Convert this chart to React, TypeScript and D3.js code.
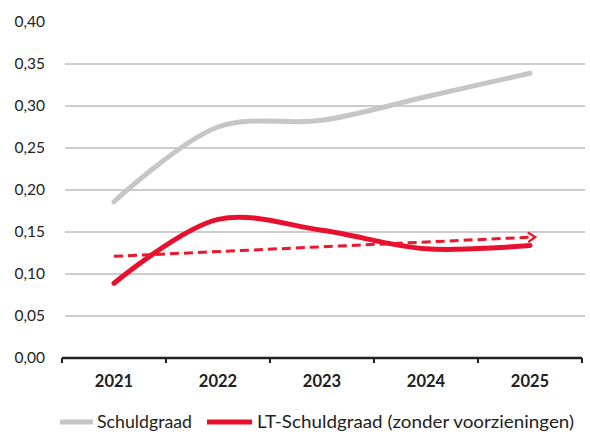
import React from "react";
import * as d3 from "d3";

const years = ["2021", "2022", "2023", "2024", "2025"];
const schuldgraad = [0.186, 0.275, 0.283, 0.311, 0.339];
const ltSchuldgraad = [0.089, 0.165, 0.152, 0.13, 0.134];
const trendStart = 0.121;
const trendEnd = 0.144;
const yTicks = [0, 0.05, 0.1, 0.15, 0.2, 0.25, 0.3, 0.35, 0.4];
const legendLabels = ["Schuldgraad", "LT-Schuldgraad (zonder voorzieningen)"];

const W = 590;
const H = 439;
const left = 62;
const right = 582;
const top = 22;
const bottom = 358;

export default function App() {
  const x = d3.scaleBand<string>().domain(years).range([left, right]);
  const y = d3.scaleLinear().domain([0, 0.4]).range([bottom, top]);
  const cx = (d: string) => (x(d) as number) + x.bandwidth() / 2;

  const line = d3
    .line<number>()
    .x((_, i) => cx(years[i]))
    .y((d) => y(d))
    .curve(d3.curveCatmullRom.alpha(0.5));

  const font = "Lato, 'Open Sans', sans-serif";
  const boundaries = [...years.map((d) => x(d) as number), right];

  const x1 = cx(years[0]);
  const x2 = cx(years[years.length - 1]) + 4;
  const yt1 = y(trendStart);
  const yt2 = y(trendEnd);

  return (
    <svg
      width={W}
      height={H}
      style={{ position: "absolute", left: 0, top: 0, background: "#fff" }}
    >
      <defs>
        <marker
          id="arrow"
          viewBox="0 0 10 10"
          refX="6"
          refY="5"
          markerWidth="4"
          markerHeight="4"
          orient="auto"
          markerUnits="strokeWidth"
        >
          <path d="M1,1 L7,5 L1,9" fill="none" stroke="#e8182e" strokeWidth="2" />
        </marker>
      </defs>
      {yTicks.map((t) => (
        <g key={t}>
          {t > 0 && t < 0.4 && (
            <line x1={left + 3} x2={right + 3} y1={y(t)} y2={y(t)} stroke="#9a9a9a" strokeWidth={1} />
          )}
          <text
            x={45}
            y={y(t)}
            dy="0.35em"
            textAnchor="end"
            fontFamily={font}
            fontSize={15.5}
            fill="#222"
          >
            {t.toFixed(2).replace(".", ",")}
          </text>
        </g>
      ))}
      <line x1={left} x2={right} y1={bottom} y2={bottom} stroke="#222" strokeWidth={2.5} />
      {boundaries.map((b, i) => (
        <line key={i} x1={b} x2={b} y1={bottom} y2={bottom + 5} stroke="#222" strokeWidth={2} />
      ))}
      {years.map((d) => (
        <text
          key={d}
          x={cx(d)}
          y={387}
          textAnchor="middle"
          fontFamily={font}
          fontWeight="bold"
          fontSize={16.5}
          fill="#222"
        >
          {d}
        </text>
      ))}
      <path d={line(schuldgraad) || ""} fill="none" stroke="#c6c6c6" strokeWidth={5} strokeLinecap="round" />
      <path d={line(ltSchuldgraad) || ""} fill="none" stroke="#e8102e" strokeWidth={5} strokeLinecap="round" />
      <line
        x1={x1}
        y1={yt1}
        x2={x2}
        y2={yt2}
        stroke="#e8182e"
        strokeWidth={3}
        strokeDasharray="9 5"
        markerEnd="url(#arrow)"
      />
      <line x1={60} x2={93} y1={422} y2={422} stroke="#c6c6c6" strokeWidth={5} />
      <text x={97} y={422} dy="0.35em" fontFamily={font} fontSize={17.5} fill="#222" textLength={95} lengthAdjust="spacingAndGlyphs">
        {legendLabels[0]}
      </text>
      <line x1={207} x2={252} y1={422} y2={422} stroke="#e8102e" strokeWidth={5} />
      <text x={257} y={422} dy="0.35em" fontFamily={font} fontSize={17.5} fill="#222" textLength={317} lengthAdjust="spacingAndGlyphs">
        {legendLabels[1]}
      </text>
    </svg>
  );
}
